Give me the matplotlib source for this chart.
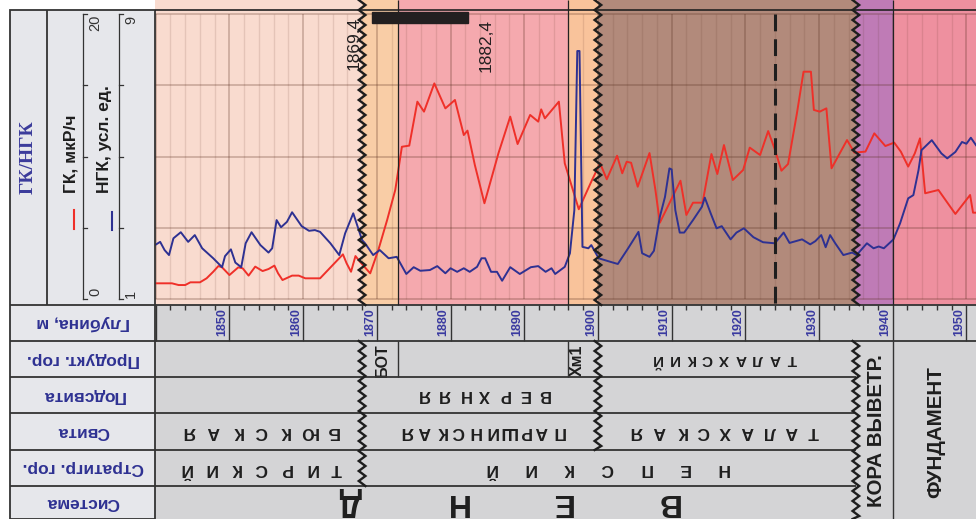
import numpy as np
import matplotlib.pyplot as plt
from matplotlib.patches import Rectangle
from matplotlib.transforms import blended_transform_factory

plt.rcParams['font.family'] = ['Liberation Sans', 'DejaVu Sans']

# ГК, мкР/ч vs depth, m
gk_depth = [1839.9, 1842.2, 1843.1, 1844.0, 1844.7, 1846.0, 1846.9, 1847.8, 1848.5, 1849.0,
            1850.0, 1851.2, 1851.8, 1852.6, 1853.5, 1854.5, 1855.3, 1856.1, 1856.6, 1857.2,
            1858.5, 1859.4, 1860.3, 1862.3, 1865.4, 1865.9, 1866.5, 1867.1, 1867.7, 1869.1,
            1870.2, 1871.4, 1872.5, 1873.4, 1874.4, 1875.5, 1876.4, 1877.8, 1879.3, 1880.6,
            1881.8, 1882.3, 1883.3, 1884.6, 1886.5, 1888.1, 1889.1, 1890.8, 1891.9, 1892.3,
            1892.8, 1894.7, 1895.5, 1897.4, 1899.2, 1900.3, 1901.2, 1902.6, 1903.3, 1903.9,
            1904.5, 1905.4, 1907.0, 1907.8, 1908.4, 1911.2, 1912.0, 1912.9, 1914.2, 1915.4,
            1916.2, 1917.1, 1918.3, 1919.7, 1920.6, 1922.0, 1923.1, 1924.0, 1924.9, 1925.8,
            1927.0, 1927.9, 1928.9, 1929.3, 1930.1, 1931.0, 1931.7, 1933.8, 1934.8, 1936.3,
            1937.5, 1939.0, 1940.2, 1941.1, 1942.1, 1943.0, 1943.7, 1944.4, 1946.2, 1948.5,
            1950.5, 1950.9, 1951.3]
gk_value = [1.12, 1.12, 1.00, 1.00, 1.19, 1.19, 1.47, 1.93, 2.33, 2.24,
            1.70, 2.24, 2.17, 1.66, 2.29, 1.98, 2.12, 2.36, 1.82, 1.35,
            1.66, 1.66, 1.47, 1.47, 3.15, 2.52, 1.93, 3.03, 2.64, 1.82,
            3.45, 5.56, 7.66, 10.69, 10.77, 13.85, 13.15, 15.13, 13.38, 13.97,
            11.51, 11.82, 9.41, 6.73, 10.23, 12.80, 10.88, 12.92, 12.45, 13.31,
            12.68, 13.85, 9.53, 6.31, 8.36, 9.53, 8.41, 10.06, 8.83, 9.64,
            9.57, 7.89, 10.25, 7.66, 5.37, 8.31, 5.91, 6.77, 6.77, 10.18,
            8.78, 10.81, 8.36, 9.06, 10.63, 10.11, 11.79, 10.51, 9.01, 9.48,
            13.03, 15.95, 15.95, 13.27, 13.15, 13.38, 9.18, 11.16, 10.28, 10.35,
            11.63, 10.74, 10.98, 10.35, 9.30, 10.23, 11.28, 7.43, 7.66, 5.98,
            7.31, 6.07, 6.07]

# НГК, усл. ед. vs depth, m
ngk_depth = [1839.9, 1840.6, 1841.2, 1841.8, 1842.4, 1843.4, 1844.4, 1845.3, 1846.3, 1847.8,
             1849.0, 1849.4, 1850.2, 1850.8, 1851.6, 1852.2, 1853.0, 1854.2, 1855.3, 1855.8,
             1856.4, 1857.0, 1857.8, 1858.5, 1859.8, 1860.8, 1861.6, 1862.3, 1863.7, 1864.9,
             1865.7, 1866.8, 1868.0, 1868.4, 1869.5, 1870.4, 1871.6, 1872.7, 1874.0, 1875.0,
             1875.9, 1877.2, 1878.2, 1879.3, 1880.0, 1880.9, 1881.8, 1882.6, 1883.6, 1884.2,
             1884.7, 1885.5, 1886.3, 1887.0, 1888.1, 1889.4, 1890.9, 1891.9, 1892.9, 1893.7,
             1894.2, 1895.5, 1896.2, 1896.8, 1897.2, 1897.5, 1897.9, 1898.7, 1899.1, 1900.1,
             1901.7, 1902.7, 1904.1, 1905.5, 1906.0, 1907.0, 1907.6, 1908.4, 1909.1, 1909.7,
             1910.0, 1910.5, 1911.1, 1911.7, 1912.9, 1914.1, 1914.5, 1915.3, 1916.1, 1916.8,
             1918.0, 1918.8, 1919.8, 1921.1, 1922.4, 1924.0, 1925.2, 1926.0, 1927.7, 1928.8,
             1929.5, 1930.3, 1930.9, 1931.5, 1932.2, 1933.3, 1934.5, 1935.1, 1936.5, 1937.4,
             1938.1, 1938.8, 1940.1, 1941.0, 1942.1, 1942.8, 1943.5, 1943.9, 1945.3, 1946.6,
             1947.4, 1948.5, 1949.4, 1950.0, 1950.6, 1951.3]
ngk_value = [2.52, 2.61, 2.38, 2.24, 2.71, 2.88, 2.61, 2.80, 2.43, 2.15,
             1.90, 2.21, 2.40, 2.03, 1.90, 2.57, 2.88, 2.52, 2.31, 2.43,
             3.22, 3.02, 3.17, 3.44, 3.05, 2.92, 2.94, 2.89, 2.57, 2.24,
             2.85, 3.41, 2.66, 2.57, 2.24, 2.38, 2.15, 2.19, 1.71, 1.90,
             1.80, 1.82, 1.93, 1.73, 1.87, 1.77, 1.87, 1.77, 1.91, 2.15,
             2.15, 1.77, 1.77, 1.52, 1.90, 1.71, 1.90, 1.93, 1.77, 1.87,
             1.71, 1.91, 2.29, 3.50, 7.96, 7.96, 2.47, 2.43, 2.52, 2.15,
             2.05, 1.99, 2.43, 2.89, 2.29, 2.19, 2.36, 3.31, 3.87, 4.67,
             4.64, 3.50, 2.87, 2.87, 3.22, 3.59, 3.85, 3.41, 2.99, 3.05,
             2.68, 2.87, 2.99, 2.74, 2.60, 2.57, 2.87, 2.58, 2.68, 2.54,
             2.63, 2.80, 2.46, 2.80, 2.57, 2.24, 2.31, 2.24, 2.57, 2.43,
             2.48, 2.43, 2.68, 3.13, 3.83, 3.92, 4.62, 5.18, 5.46, 5.09,
             4.95, 5.13, 5.41, 5.36, 5.53, 5.32]

# intervals (depth, m) and their colours
zone_edges = [1839.9, 1868.0, 1872.9, 1896.0, 1900.0, 1935.0, 1940.0, 1951.3]
zone_colors = ['#F9DBCF', '#F9CDA6', '#F5A9AE', '#F9C39B', '#B28A7B', '#BF7BB6', '#EE909F']
wavy_bounds = [1868.0, 1900.0, 1935.0]
sharp_bounds = [1872.9, 1896.0, 1940.0]
dashed_bound = 1924.0
perf = (1869.4, 1882.4)

D0, D1 = 1839.9, 1951.3
W, H = 976, 519
PLOT_BOTTOM = 299.3   # pixel row of ГК = 0
PX_PER_GK = 14.27

fig = plt.figure(figsize=(W / 100, H / 100), dpi=100)


def px_axes(x0, y0, x1, y1):
    a = fig.add_axes([x0 / W, 1 - y1 / H, (x1 - x0) / W, (y1 - y0) / H])
    a.set_axis_off()
    return a


lay = px_axes(0, 0, W, H)
lay.set_xlim(0, W)
lay.set_ylim(H, 0)

ax = px_axes(155, 0, W, 305)
gk_lo = -(305 - PLOT_BOTTOM) / PX_PER_GK
gk_hi = PLOT_BOTTOM / PX_PER_GK
ax.set_xlim(D0, D1)
ax.set_ylim(gk_lo, gk_hi)
ax2 = ax.twinx()
ax2.set_axis_off()
ax2.set_ylim(1 + 0.4 * gk_lo, 1 + 0.4 * gk_hi)

ov = px_axes(155, 0, W, H)
ov.set_xlim(D0, D1)
ov.set_ylim(H, 0)

# ---- upper log track ----
for lo, hi, c in zip(zone_edges[:-1], zone_edges[1:], zone_colors):
    ax.axvspan(lo, hi, color=c, lw=0, zorder=0)

for d in np.arange(1840, 1952, 2):
    major = d % 10 == 0
    ax.vlines(d, 0, 20, color='#5a3020', alpha=0.3 if major else 0.13,
              lw=1.2 if major else 1.0, zorder=1)
ax.hlines([0, 5, 10, 15, 20], D0, D1, color='#5a3020', alpha=0.3, lw=1.2, zorder=1)

ax.plot(gk_depth, gk_value, color='#EF3029', lw=1.4, zorder=3)
ax2.plot(ngk_depth, ngk_value, color='#2E3192', lw=1.4, zorder=3)


def zigzag(d, y0, y1, amp=0.45, half=5.0):
    ys = np.clip(np.arange(y0, y1 + half, half), y0, y1)
    xs = d + amp * np.where(np.arange(len(ys)) % 2 == 0, -1, 1)
    ov.plot(xs, ys, color='#1E1E1E', lw=1.7, solid_joinstyle='miter', clip_on=False, zorder=6)


ov.vlines(sharp_bounds, 0, 305, color='#222222', lw=0.9, zorder=5)
ov.vlines(dashed_bound, 14, 305, color='#1E1E1E', lw=2.2,
          linestyles=(0, (5.5, 2.6)), zorder=5)
for d in wavy_bounds:
    zigzag(d, 0, 305)

ov.hlines(10, D0, D1, color='#222222', lw=1.2, zorder=5)
ov.add_patch(Rectangle((perf[0], 11.7), perf[1] - perf[0], 11, color='#231F20', zorder=6))
for d, x, y in [(perf[0], 1866.9, 43), (perf[1], 1884.8, 45)]:
    ov.text(x, y, f'{d:.1f}'.replace('.', ','), rotation=90, fontsize=12.5,
            color='#231F20', ha='center', va='center', zorder=7)

# ---- lower table ----
ov.add_patch(Rectangle((D0, 305), D1 - D0, H - 305, color='#D4D4D6', zorder=0))
line_kw = dict(color='#333333', lw=1.3, zorder=4)
ov.hlines([305, 341], D0, D1, **line_kw)
ov.hlines([377, 413, 450, 486], D0, wavy_bounds[2], **line_kw)
ov.vlines(D0, 10, H, **line_kw)

for d in np.arange(1840, 1952, 2):
    if d % 10 == 0:
        ov.vlines(d, 305, 341, color='#333333', lw=1.0)
    else:
        ov.vlines(d, 305, 309.5, color='#333333', lw=1.0)
for d in range(1850, 1951, 10):
    ov.text(d - 0.95, 322, str(d), rotation=90, fontsize=9, fontweight='bold',
            color='#3A3AA0', ha='center', va='center')

ov.vlines(sharp_bounds[:2], 341, 377, color='#333333', lw=1.0)
ov.vlines(sharp_bounds[2], 341, H, color='#333333', lw=1.0)
zigzag(wavy_bounds[0], 341, 486)
zigzag(wavy_bounds[1], 341, 450)
zigzag(wavy_bounds[2], 341, H)


def spaced(word, center, y, step, size):
    n = len(word)
    for i, ch in enumerate(word):
        x = center + (n - 1) / 2 * step - i * step
        ov.text(x, y, ch, rotation=180, fontsize=size, fontweight='bold',
                color='#1E1E1E', ha='center', va='center')


spaced('ТАЛАХСКИЙ', 1917.1, 359, 2.3, 11)
spaced('ВЕРХНЯЯ', 1884.6, 395, 2.7, 12)
spaced('БЮКСКАЯ', 1854.3, 431.5, 3.25, 12.5)
spaced('ПАРШИНСКАЯ', 1884.4, 431.5, 2.27, 12.5)
spaced('ТАЛАХСКАЯ', 1917.3, 431.5, 3.0, 12.5)
spaced('ТИРСКИЙ', 1854.3, 468, 3.4, 12.5)
spaced('НЕПСКИЙ', 1901.2, 468, 5.25, 12.5)
spaced('ВЕНД', 1887.9, 502, 14.3, 23)

for txt, x in [('БОТ', 1870.8), ('Хм1', 1897.2)]:
    ov.text(x, 360, txt, rotation=90, fontsize=11.5, fontweight='bold',
            color='#1E1E1E', ha='center', va='center')
ov.text(1937.8, 431, 'КОРА ВЫВЕТР.', rotation=90, fontsize=14.8, fontweight='bold',
        color='#1E1E1E', ha='center', va='center')
ov.text(1945.8, 432, 'ФУНДАМЕНТ', rotation=90, fontsize=14.8, fontweight='bold',
        color='#1E1E1E', ha='center', va='center')

# ---- left header column ----
lay.add_patch(Rectangle((10, 10), 145, H - 10, facecolor='#E6E7EB',
                        edgecolor='#333333', lw=1.3, zorder=0))
lay.hlines([305, 341, 377, 413, 450, 486], 10, 155, color='#333333', lw=1.3)
lay.vlines(47, 10, 305, color='#333333', lw=1.3)

row_names = ['Глубина, м', 'Продукт. гор.', 'Подсвита', 'Свита', 'Стратигр. гор.', 'Система']
row_y = [323, 359, 395, 431.5, 468, 502.5]
for name, y in zip(row_names, row_y):
    lay.text(83, y, name, rotation=180, fontsize=12.5, fontweight='bold',
             color='#2E3192', ha='center', va='center')

lay.text(28, 157, 'ГК/НГК', rotation=90, fontsize=14, fontweight='bold',
         family='Liberation Serif', color='#3B3B9B', ha='center', va='center')

gk_tr = blended_transform_factory(lay.transData, ax.transData)
ngk_tr = blended_transform_factory(lay.transData, ax2.transData)
for tr, x, ticks in [(gk_tr, 83.3, [0, 5, 10, 15, 20]), (ngk_tr, 119.3, [1, 3, 5, 7, 9])]:
    lay.plot([x, x], [ticks[0], ticks[-1]], color='#333333', lw=0.9, transform=tr)
    for t in ticks:
        lay.plot([x, x + 3.5], [t, t], color='#333333', lw=0.9, transform=tr)
lay.text(95, 23, '20', rotation=90, fontsize=10.5, color='#333333', ha='center', va='center')
lay.text(95, 292, '0', rotation=90, fontsize=10.5, color='#333333', ha='center', va='center')
lay.text(131, 19.5, '9', rotation=90, fontsize=10.5, color='#333333', ha='center', va='center')
lay.text(131, 293.5, '1', rotation=90, fontsize=10.5, color='#333333', ha='center', va='center')

lay.text(71.5, 154, 'ГК, мкР/ч', rotation=90, fontsize=12.5, fontweight='bold',
         color='#1E1E1E', ha='center', va='center')
lay.plot([73.5, 73.5], [210, 229], color='#EF3029', lw=1.5)
lay.text(104, 139, 'НГК, усл. ед.', rotation=90, fontsize=12.5, fontweight='bold',
         color='#1E1E1E', ha='center', va='center')
lay.plot([111.7, 111.7], [212, 230], color='#2E3192', lw=1.5)

fig.savefig('out.png', dpi=100)
